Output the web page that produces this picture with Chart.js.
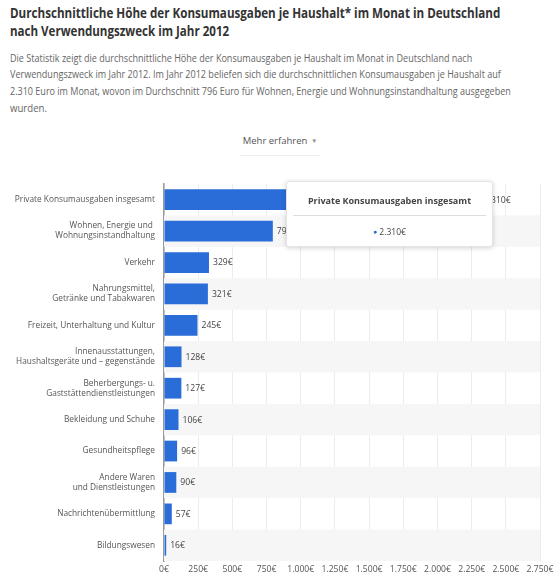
<!DOCTYPE html>
<html lang="de">
<head>
<meta charset="utf-8">
<script src="https://cdn.jsdelivr.net/npm/chart.js@4.4.1/dist/chart.umd.min.js"></script>
<style>
  html, body { margin: 0; padding: 0; background: #fff; }
  body { width: 560px; height: 582px; position: relative; overflow: hidden; font-family: "Open Sans", sans-serif; }
  .fit { position: absolute; left: 10px; white-space: nowrap; transform-origin: 0 50%; }
  .title { font-weight: 700; font-size: 14px; color: #333; }
  .desc { font-size: 10.5px; color: #666; }
  .more { position: absolute; left: 240px; top: 134px; width: 80px; text-align: center; font-size: 9.5px; color: #555; }
  .more .arrow { font-size: 6px; color: #888; margin-left: 4px; vertical-align: 1px; }
  .more-line { position: absolute; left: 240px; top: 155px; width: 80px; height: 1px; background: #eee; }
  .chart-box { position: absolute; left: 0; top: 170px; width: 560px; height: 412px; }
  .tip { position: absolute; left: 286px; top: 181px; width: 207px; height: 66px; background: #fff;
         border: 1px solid #e4e4e4; border-radius: 3px; box-shadow: 0 1px 5px rgba(0,0,0,.18); box-sizing: border-box; }
  .tip .head { position: absolute; left: 0; right: 0; top: 12px; text-align: center; font-size: 9px; font-weight: 700; color: #444; }
  .tip .sep { position: absolute; left: 6px; right: 6px; top: 33px; height: 1px; background: #ddd; }
  .tip .val { position: absolute; left: 0; right: 0; top: 44px; text-align: center; font-size: 8.5px; color: #444; }
  .tip .dot { color: #2a6dd9; font-size: 7px; vertical-align: 1px; margin-right: 2px; }
</style>
</head>
<body>
<div class="fit title" style="top:3px" data-w="490">Durchschnittliche Höhe der Konsumausgaben je Haushalt* im Monat in Deutschland</div>
<div class="fit title" style="top:21px" data-w="219">nach Verwendungszweck im Jahr 2012</div>
<div class="fit desc" style="top:51px" data-w="462">Die Statistik zeigt die durchschnittliche Höhe der Konsumausgaben je Haushalt im Monat in Deutschland nach</div>
<div class="fit desc" style="top:67px" data-w="491">Verwendungszweck im Jahr 2012. Im Jahr 2012 beliefen sich die durchschnittlichen Konsumausgaben je Haushalt auf</div>
<div class="fit desc" style="top:84px" data-w="501">2.310 Euro im Monat, wovon im Durchschnitt 796 Euro für Wohnen, Energie und Wohnungsinstandhaltung ausgegeben</div>
<div class="fit desc" style="top:101px" data-w="37">wurden.</div>
<div class="more">Mehr erfahren<span class="arrow">▼</span></div>
<div class="more-line"></div>

<div class="chart-box"><canvas id="c" width="560" height="412"></canvas></div>

<div class="tip">
  <div class="head">Private Konsumausgaben insgesamt</div>
  <div class="sep"></div>
  <div class="val"><span class="dot">●</span>2.310€</div>
</div>

<script>
const categories = [
  'Private Konsumausgaben insgesamt',
  ['Wohnen, Energie und ', 'Wohnungsinstandhaltung'],
  'Verkehr',
  ['Nahrungsmittel,', 'Getränke und Tabakwaren'],
  'Freizeit, Unterhaltung und Kultur',
  ['Innenausstattungen,', 'Haushaltsgeräte und – gegenstände'],
  ['Beherbergungs- u.', 'Gaststättendienstleistungen'],
  'Bekleidung und Schuhe',
  'Gesundheitspflege',
  ['Andere Waren', 'und Dienstleistungen'],
  'Nachrichtenübermittlung',
  'Bildungswesen'
];
const values = [2310, 796, 329, 321, 245, 128, 127, 106, 96, 90, 57, 16];
const xTicks = [0, 250, 500, 750, 1000, 1250, 1500, 1750, 2000, 2250, 2500, 2750];

const BLUE = '#2a6dd9';
const euro = v => String(v).replace(/\B(?=(\d{3})+(?!\d))/g, '.') + '€';

// squeeze html text lines to the widths seen in the picture
document.querySelectorAll('.fit').forEach(el => {
  const w = el.getBoundingClientRect().width;
  const target = +el.dataset.w;
  if (w > 0) el.style.transform = 'scaleX(' + (target / w).toFixed(3) + ')';
});

// light grey band behind every second row
const rowBands = {
  id: 'rowBands',
  beforeDatasetsDraw(chart) {
    const { ctx, chartArea, scales: { y } } = chart;
    const step = (y.bottom - y.top) / categories.length;
    ctx.save();
    ctx.fillStyle = '#f6f6f6';
    categories.forEach((c, i) => {
      if (i % 2 === 1) ctx.fillRect(chartArea.left, y.getPixelForValue(i) - step / 2, chartArea.right - chartArea.left, step);
    });
    ctx.restore();
  }
};

// value labels at the end of the bars
const valueLabels = {
  id: 'valueLabels',
  afterDatasetsDraw(chart) {
    const { ctx } = chart;
    const meta = chart.getDatasetMeta(0);
    ctx.save();
    ctx.font = '8.6px "Open Sans", sans-serif';
    ctx.fillStyle = '#444';
    ctx.textBaseline = 'middle';
    meta.data.forEach((bar, i) => {
      ctx.fillText(euro(values[i]), bar.x + 4, bar.y + 0.5);
    });
    ctx.restore();
  }
};

new Chart(document.getElementById('c'), {
  type: 'bar',
  data: {
    labels: categories,
    datasets: [{
      data: values,
      backgroundColor: BLUE,
      borderWidth: 0,
      categoryPercentage: 1,
      barPercentage: 0.66
    }]
  },
  options: {
    indexAxis: 'y',
    responsive: false,
    animation: false,
    layout: { padding: { top: 6, right: 20, left: 0, bottom: 0 } },
    plugins: { legend: { display: false }, tooltip: { enabled: false } },
    scales: {
      x: {
        min: 0,
        max: 2750,
        afterFit: s => { s.height = 21; },
        afterBuildTicks: s => { s.ticks = xTicks.map(v => ({ value: v })); },
        grid: { color: '#ececec', drawTicks: false },
        border: { display: false },
        ticks: {
          padding: 3,
          color: '#555',
          font: { family: 'Open Sans', size: 8.6 },
          callback: v => euro(v)
        }
      },
      y: {
        afterFit: s => { s.width = 164; },
        grid: { display: false, drawTicks: false },
        border: { display: true, color: '#999', width: 1.5 },
        ticks: {
          padding: 9,
          color: '#555',
          font: { family: 'Open Sans', size: 8.3, lineHeight: 1.2 }
        }
      }
    }
  },
  plugins: [rowBands, valueLabels]
});
</script>
</body>
</html>
